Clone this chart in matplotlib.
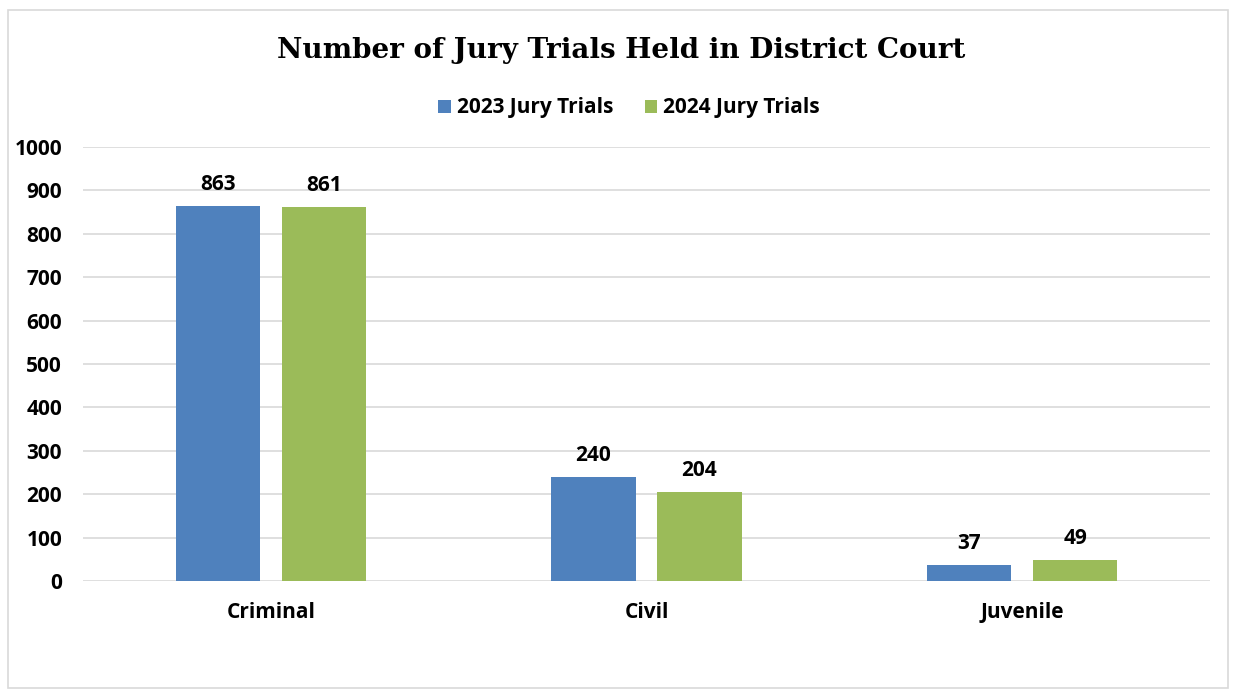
import matplotlib
matplotlib.use("Agg")
import matplotlib.pyplot as plt
from matplotlib.patches import Rectangle
import numpy as np

categories = ["Criminal", "Civil", "Juvenile"]
series_names = ["2023 Jury Trials", "2024 Jury Trials"]
values_2023 = [863, 240, 37]
values_2024 = [861, 204, 49]
yticks = [0, 100, 200, 300, 400, 500, 600, 700, 800, 900, 1000]
colors = ["#4F81BD", "#9BBB59"]

W, H = 1235, 694
fig = plt.figure(figsize=(W / 100, H / 100), dpi=100)
fig.patch.set_facecolor("white")

# plot area in pixels: x 83..1210, y(0)=581, y(1000)=147
left, right = 83, 1210
y0, y1000 = 581, 147
ax = fig.add_axes([left / W, 1 - y0 / H, (right - left) / W, (y0 - y1000) / H])
ax.set_xlim(-0.5, len(categories) - 0.5)
ax.set_ylim(0, 1000)

x = np.arange(len(categories))
bw = 0.224
off = 0.141
font = ["Open Sans", "DejaVu Sans"]
fs = 15
for vals, c, sgn, name in [(values_2023, colors[0], -1, series_names[0]),
                           (values_2024, colors[1], 1, series_names[1])]:
    bars = ax.bar(x + sgn * off, vals, width=bw, color=c, zorder=3, label=name)
    for b, v in zip(bars, vals):
        ax.annotate(str(v), (b.get_x() + b.get_width() / 2, v),
                    xytext=(0, 8), textcoords="offset points",
                    ha="center", va="bottom", fontsize=fs,
                    fontweight="bold", family=font, color="black")

ax.set_yticks(yticks)
ax.set_yticklabels([str(t) for t in yticks], fontsize=fs, fontweight="bold",
                   family=font)
ax.set_xticks(x)
ax.set_xticklabels(categories, fontsize=fs, fontweight="bold", family=font)
ax.tick_params(axis="y", length=0, pad=15)
ax.tick_params(axis="x", length=0, pad=15)
ax.grid(axis="y", color="#D9D9D9", linewidth=1.2, zorder=0)
for s in ax.spines.values():
    s.set_visible(False)
ax.set_facecolor("none")

fig.text(621 / W, 1 - 50 / H, "Number of Jury Trials Held in District Court",
         ha="center", va="center", fontsize=20, fontweight="bold",
         family=["DejaVu Serif"], color="black")

leg = fig.legend(*ax.get_legend_handles_labels(), loc="center",
                 bbox_to_anchor=(629 / W, 1 - 108 / H), ncol=2, frameon=False,
                 prop={"family": "Open Sans", "weight": "bold", "size": fs},
                 handlelength=0.6, handleheight=0.6, handletextpad=0.3,
                 columnspacing=1.5)

fig.patches.append(Rectangle((8 / W, 1 - 688 / H), 1220 / W, 678 / H,
                             transform=fig.transFigure, fill=False,
                             edgecolor="#D9D9D9", linewidth=1.2))

fig.savefig("out.png", dpi=100)
